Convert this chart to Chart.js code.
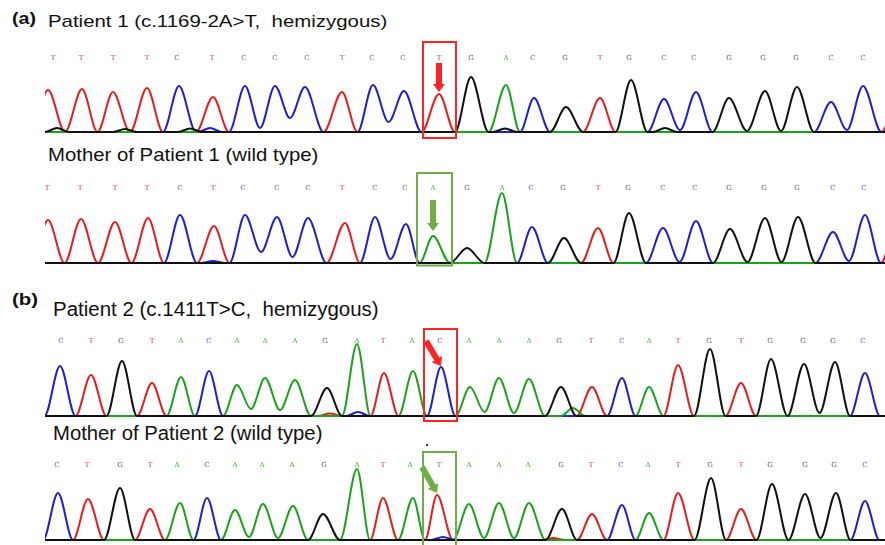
<!DOCTYPE html>
<html>
<head>
<meta charset="utf-8">
<script src="https://cdn.jsdelivr.net/npm/chart.js@4.4.1/dist/chart.umd.min.js"></script>
<style>
  html, body { margin: 0; padding: 0; background: #fff; overflow: hidden; }
  #fig { position: relative; width: 885px; height: 545px; }
  .lbl { position: absolute; font-family: "Liberation Sans", Arial, sans-serif; white-space: pre;
         line-height: 1; color: #111; transform-origin: 0 0; }
  .tag { font-weight: bold; }
  canvas { position: absolute; left: 45px; }
</style>
</head>
<body>
<div id="fig">
  <div class="lbl tag" style="left:12px;top:10px;font-size:17px;transform:scaleX(1.15)">(a)</div>
  <div class="lbl" style="left:48px;top:13px;font-size:17px;transform:scaleX(1.2)">Patient 1 (c.1169-2A&gt;T,  hemizygous)</div>
  <div class="lbl" style="left:48px;top:146px;font-size:18.5px;transform:scaleX(1.1)">Mother of Patient 1 (wild type)</div>
  <div class="lbl tag" style="left:12px;top:291px;font-size:17px;transform:scaleX(1.2)">(b)</div>
  <div class="lbl" style="left:53px;top:300px;font-size:19.5px;transform:scaleX(1.05)">Patient 2 (c.1411T&gt;C,  hemizygous)</div>
  <div class="lbl" style="left:53px;top:424px;font-size:19.5px;transform:scaleX(1.04)">Mother of Patient 2 (wild type)</div>
  <canvas id="c1" width="840" height="110" style="top:31px"></canvas>
  <canvas id="c2" width="840" height="110" style="top:162px"></canvas>
  <canvas id="c3" width="840" height="110" style="top:315px"></canvas>
  <canvas id="c4" width="840" height="110" style="top:439px"></canvas>
</div>
<script>
// ---- data: peak calls (x = scan position, h = signal) ----

// (a) patient 1
const p1Seq   = 'TTTTCTCCCTCCTGACGTGCCGGGCCT';
const p1PeakX = [48, 82, 113, 147, 179, 213, 245, 275, 305, 342, 373, 404, 439,
                 471, 506, 534, 566, 600, 631, 664, 696, 729, 765, 797, 831, 863, 900];
const p1PeakH = [840, 860, 800, 880, 920, 700, 920, 920, 900, 800, 940, 820, 760,
                 1100, 940, 680, 500, 680, 1040, 660, 800, 680, 820, 900, 600, 920, 800];
// signal left in the dip between two neighbouring peaks of the same base
const p1Dip   = [0, 0, 0, 0, 0, 0, 80, 280, 0, 0, 200, 0, 0,
                 0, 0, 0, 0, 0, 0, 40, 0, 20, 20, 0, 40, 0];
const p1Minor = [['G', 57, 80], ['G', 125, 60], ['G', 190, 70], ['C', 210, 80], ['G', 505, 70], ['G', 665, 80]];
const p1Calls = 'TTTTCTCCCTCCTGACGTGCCGGGCC';
const p1CallX = [53, 81, 113, 147, 177, 212, 244, 275, 307, 342, 372, 403, 439,
                 471, 506, 533, 565, 600, 629, 664, 694, 729, 763, 796, 831, 863];

// (a) mother of patient 1
const p2Seq   = 'TTTTCTCCCTCCAGACGTGCCGGGCCT';
const p2PeakX = [48, 81, 115, 148, 180, 214, 245, 277, 308, 345, 375, 406, 433,
                 467, 502, 532, 564, 598, 629, 663, 696, 730, 765, 798, 833, 865, 897];
const p2PeakH = [860, 880, 820, 900, 960, 740, 960, 920, 900, 800, 920, 780, 540,
                 300, 1400, 720, 500, 700, 1000, 700, 840, 680, 900, 920, 620, 960, 800];
const p2Dip   = [0, 0, 0, 0, 0, 0, 220, 120, 0, 0, 80, 0, 0,
                 0, 0, 0, 0, 0, 0, 20, 0, 20, 20, 0, 40, 0];
const p2Minor = [['C', 213, 40]];
const p2Calls = 'TTTTCTCCCTCCAGACGTGCCGGGCC';
const p2CallX = [47, 80, 115, 147, 180, 213, 243, 277, 308, 342, 375, 405, 433,
                 467, 502, 531, 563, 598, 628, 663, 695, 729, 764, 797, 833, 864];

// (b) patient 2
const p3Seq   = 'CTGTACAAAGATACAAAGTCATGTGGGC';
const p3PeakX = [60, 91, 122, 152, 181, 209, 237, 265, 295, 327, 357, 384, 413, 441,
                 470, 499, 529, 561, 592, 622, 649, 678, 710, 741, 771, 804, 835, 865];
const p3PeakH = [1000, 820, 1100, 660, 780, 900, 620, 760, 720, 560, 1440, 860, 900, 980,
                 580, 760, 740, 580, 580, 760, 580, 1020, 1340, 660, 1140, 1040, 1080, 860];
const p3Dip   = [0, 0, 0, 0, 0, 0, 140, 120, 0, 0, 0, 0, 0, 0,
                 80, 60, 0, 0, 0, 0, 0, 0, 0, 0, 0, 60, 0];
const p3Minor = [['A', 573, 160], ['C', 358, 80], ['T', 330, 50]];
const p3Calls = 'CTGTACAAAGATACAAAGTCATGTGGGC';
const p3CallX = [61, 91, 121, 152, 181, 209, 237, 265, 295, 325, 357, 383, 412, 440,
                 469, 499, 529, 559, 591, 622, 649, 678, 709, 741, 770, 803, 833, 863];

// (b) mother of patient 2
const p4Seq   = 'CTGTACAAAGATATAAAGTCATGTGGGC';
const p4PeakX = [58, 88, 120, 150, 180, 207, 235, 263, 293, 323, 357, 383, 413, 437,
                 469, 499, 529, 562, 592, 622, 649, 678, 711, 741, 772, 805, 836, 865];
const p4PeakH = [940, 820, 1040, 620, 740, 840, 600, 720, 680, 520, 1420, 840, 840, 900,
                 720, 740, 740, 620, 520, 700, 540, 940, 1240, 620, 1120, 920, 940, 780];
const p4Dip   = [0, 0, 0, 0, 0, 0, 60, 40, 0, 0, 0, 0, 0, 0,
                 40, 40, 0, 0, 0, 0, 0, 0, 0, 0, 0, 40, 0];
const p4Minor = [['C', 443, 60], ['T', 553, 40]];
const p4Calls = 'CTGTACAAAGATATAAAGTCATGTGGGC';
const p4CallX = [57, 87, 120, 150, 177, 207, 235, 262, 292, 324, 357, 383, 410, 439,
                 469, 499, 528, 561, 591, 621, 648, 678, 710, 741, 770, 805, 834, 865];

// ---- styling ----
const TRACE = { G: '#111111', A: '#1aa31a', C: '#1e1ed6', T: '#e81c1c' };
const CALL  = { G: '#555555', A: '#3fae3f', C: '#5a5acc', T: '#d03a3a' };
const RED = '#ff2424', GREEN = '#70ad47';

// one continuous trace per base, peaks joined through the baseline
function traceFor(base, seq, xs, hs, dips, minors) {
  const n = xs.length;
  const pts = [{ x: 0, y: 0 }];
  for (let i = 0; i < n; i++) {
    if (seq[i] !== base) continue;
    const left = i > 0 ? (xs[i - 1] + xs[i]) / 2 : xs[i] - (xs[1] - xs[0]) / 2;
    const right = i < n - 1 ? (xs[i] + xs[i + 1]) / 2 : xs[i] + (xs[n - 1] - xs[n - 2]) / 2;
    if (!(i > 0 && seq[i - 1] === base)) pts.push({ x: left, y: 0 });
    pts.push({ x: xs[i], y: hs[i] });
    const sameNext = i < n - 1 && seq[i + 1] === base;
    pts.push({ x: right, y: sameNext ? dips[i] : 0 });
  }
  for (const m of minors) {
    if (m[0] !== base) continue;
    pts.push({ x: m[1] - 12, y: 0 }, { x: m[1], y: m[2] }, { x: m[1] + 12, y: 0 });
  }
  pts.push({ x: 1000, y: 0 });
  pts.sort((a, b) => a.x - b.x);
  return pts;
}

function drawArrow(ctx, x0, y0, x1, y1, color, shaft, headW, headL) {
  const len = Math.hypot(x1 - x0, y1 - y0);
  ctx.save();
  ctx.translate(x0, y0);
  ctx.rotate(Math.atan2(y1 - y0, x1 - x0));
  ctx.fillStyle = color;
  ctx.fillRect(0, -shaft / 2, len - headL + 1, shaft);
  ctx.beginPath();
  ctx.moveTo(len, 0);
  ctx.lineTo(len - headL, -headW / 2);
  ctx.lineTo(len - headL, headW / 2);
  ctx.closePath();
  ctx.fill();
  ctx.restore();
}

function makePanel(id, seq, xs, hs, dips, minors, calls, callX, mark) {
  const datasets = ['G', 'A', 'C', 'T'].map(b => ({
    data: traceFor(b, seq, xs, hs, dips, minors),
    borderColor: TRACE[b],
    borderWidth: 2,
    pointRadius: 0,
    fill: false,
    cubicInterpolationMode: 'monotone',
    clip: 1
  }));

  // base calls, highlight box and arrow
  const overlay = {
    id: 'overlay',
    afterDatasetsDraw(chart) {
      const { ctx, scales: { x, y } } = chart;
      ctx.save();
      ctx.font = '7px "DejaVu Serif", serif';
      ctx.textAlign = 'center';
      ctx.textBaseline = 'middle';
      for (let i = 0; i < calls.length; i++) {
        ctx.fillStyle = CALL[calls[i]];
        ctx.fillText(calls[i], x.getPixelForValue(callX[i]), y.getPixelForValue(mark.callY));
      }
      ctx.strokeStyle = mark.color;
      ctx.lineWidth = 2;
      const bx0 = x.getPixelForValue(mark.box[0]), bx1 = x.getPixelForValue(mark.box[1]);
      const by0 = y.getPixelForValue(mark.box[2]), by1 = y.getPixelForValue(mark.box[3]);
      ctx.strokeRect(bx0, by0, bx1 - bx0, by1 - by0);
      const a = mark.arrow;
      drawArrow(ctx, x.getPixelForValue(a[0]), y.getPixelForValue(a[1]),
                x.getPixelForValue(a[2]), y.getPixelForValue(a[3]), mark.color, 6, 12, 8);
      if (mark.dot) {
        ctx.fillStyle = '#333';
        ctx.fillRect(x.getPixelForValue(mark.dot[0]) - 1, y.getPixelForValue(mark.dot[1]) - 1, 2, 2);
      }
      ctx.restore();
    }
  };

  new Chart(document.getElementById(id), {
    type: 'line',
    data: { datasets },
    options: {
      responsive: false,
      animation: false,
      devicePixelRatio: 1,
      events: [],
      layout: { padding: 0 },
      plugins: { legend: { display: false }, tooltip: { enabled: false } },
      scales: {
        x: { type: 'linear', min: 45, max: 885, display: false },
        y: { type: 'linear', min: -180, max: 2020, display: false }
      }
    },
    plugins: [overlay]
  });
}

makePanel('c1', p1Seq, p1PeakX, p1PeakH, p1Dip, p1Minor, p1Calls, p1CallX,
  { color: RED, callY: 1480, box: [423, 456, 1800, -120], arrow: [439, 1380, 439, 800] });
makePanel('c2', p2Seq, p2PeakX, p2PeakH, p2Dip, p2Minor, p2Calls, p2CallX,
  { color: GREEN, callY: 1500, box: [417, 452, 1800, -50], arrow: [433, 1260, 433, 640] });
makePanel('c3', p3Seq, p3PeakX, p3PeakH, p3Dip, p3Minor, p3Calls, p3CallX,
  { color: RED, callY: 1500, box: [424, 457, 1740, -100], arrow: [426, 1500, 441, 1000] });
makePanel('c4', p4Seq, p4PeakX, p4PeakH, p4Dip, p4Minor, p4Calls, p4CallX,
  { color: GREEN, callY: 1500, box: [423, 456, 1760, -130], arrow: [422, 1460, 437, 940], dot: [427, 1900] });
</script>
</body>
</html>
